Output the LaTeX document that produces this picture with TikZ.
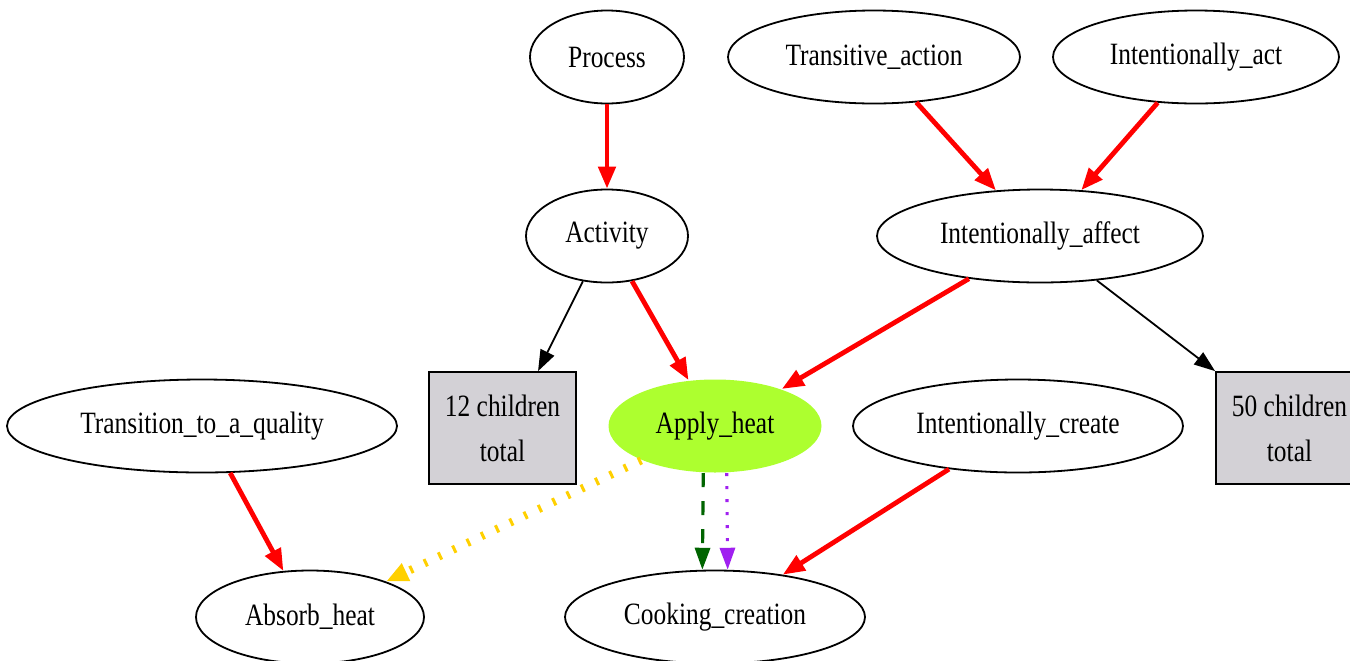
\documentclass[tikz,border=0pt]{standalone}
\usepackage{fontspec}
\setmainfont{Liberation Serif}[FakeStretch=0.82]
\usetikzlibrary{arrows.meta,positioning,shapes.geometric}
\definecolor{boxgray}{RGB}{211,209,214}
\definecolor{heatgreen}{RGB}{173,255,47}
\definecolor{usedgold}{RGB}{255,208,0}
\definecolor{perspgreen}{RGB}{0,100,0}
\definecolor{causepurple}{RGB}{160,32,240}

\begin{document}
\begin{tikzpicture}[x=0.5pt,y=-0.5pt,
  frame/.style={ellipse,draw,line width=0.9pt,inner sep=0pt,minimum height=46.5pt,
    font=\fontsize{15.5}{18}\selectfont},
  more/.style={rectangle,draw,line width=0.9pt,fill=boxgray,align=center,inner sep=0pt,
    minimum width=73.5pt,minimum height=56pt,font=\fontsize{15.5}{22.5}\selectfont},
  inherit/.style={red,line width=2.4pt,-{Triangle[length=11pt,width=8.5pt]}},
  child/.style={black,line width=0.9pt,-{Triangle[length=10.5pt,width=7.5pt]}},
  using/.style={usedgold,line width=4pt,dash pattern=on 1.5pt off 6.4pt,
    -{Triangle[length=11pt,width=9pt]}},
  persp/.style={perspgreen,line width=1.6pt,dash pattern=on 7pt off 7pt,
    -{Triangle[length=11pt,width=7.5pt]}},
  causes/.style={causepurple,line width=1.6pt,dash pattern=on 1.5pt off 5pt,
    -{Triangle[length=11pt,width=7.5pt]}}]
\useasboundingbox[fill=white] (0,0) rectangle (1350,660);
\clip (0,0) rectangle (1350,660);

% frames
\node[frame,minimum width=77pt] (process) at (607,57) {Process};
\node[frame,minimum width=146pt] (transitive) at (874,57) {Transitive\_action};
\node[frame,minimum width=143pt] (intentact) at (1196,57) {Intentionally\_act};
\node[frame,minimum width=81pt] (activity) at (607,236) {Activity};
\node[frame,minimum width=163pt] (affect) at (1040,236) {Intentionally\_affect};
\node[frame,minimum width=195pt] (transition) at (202,426) {Transition\_to\_a\_quality};
\node[frame,minimum width=106.5pt,draw=none,fill=heatgreen] (applyheat) at (715,426) {Apply\_heat};
\node[frame,minimum width=165pt] (create) at (1018,426) {Intentionally\_create};
\node[frame,minimum width=114pt] (absorb) at (310,617) {Absorb\_heat};
\node[frame,minimum width=150pt] (cooking) at (715,617) {Cooking\_creation};
\node[more] (twelve) at (502.5,428) {12 children\\total};
\node[more] (fifty) at (1289.5,428) {50 children\\total};

% relations
\draw[inherit] (process) -- (activity);
\draw[inherit] (transitive.313) -- (affect.134);
\draw[inherit] (intentact.230) -- (affect.48);
\draw[child] (activity.242) -- (twelve.58);
\draw[inherit] (activity.299) -- (applyheat.120);
\draw[inherit] (affect.211) -- (applyheat.29);
\draw[child] (affect.322) -- (fifty.north west);
\draw[inherit] (transition.301) -- (absorb.120);
\draw[using] (applyheat.205) -- (absorb.25);
\draw[persp] (applyheat.256) -- (cooking.105);
\draw[causes] (applyheat.284) -- (cooking.75);
\draw[inherit] (create.212) -- (cooking.32);
\end{tikzpicture}
\end{document}
